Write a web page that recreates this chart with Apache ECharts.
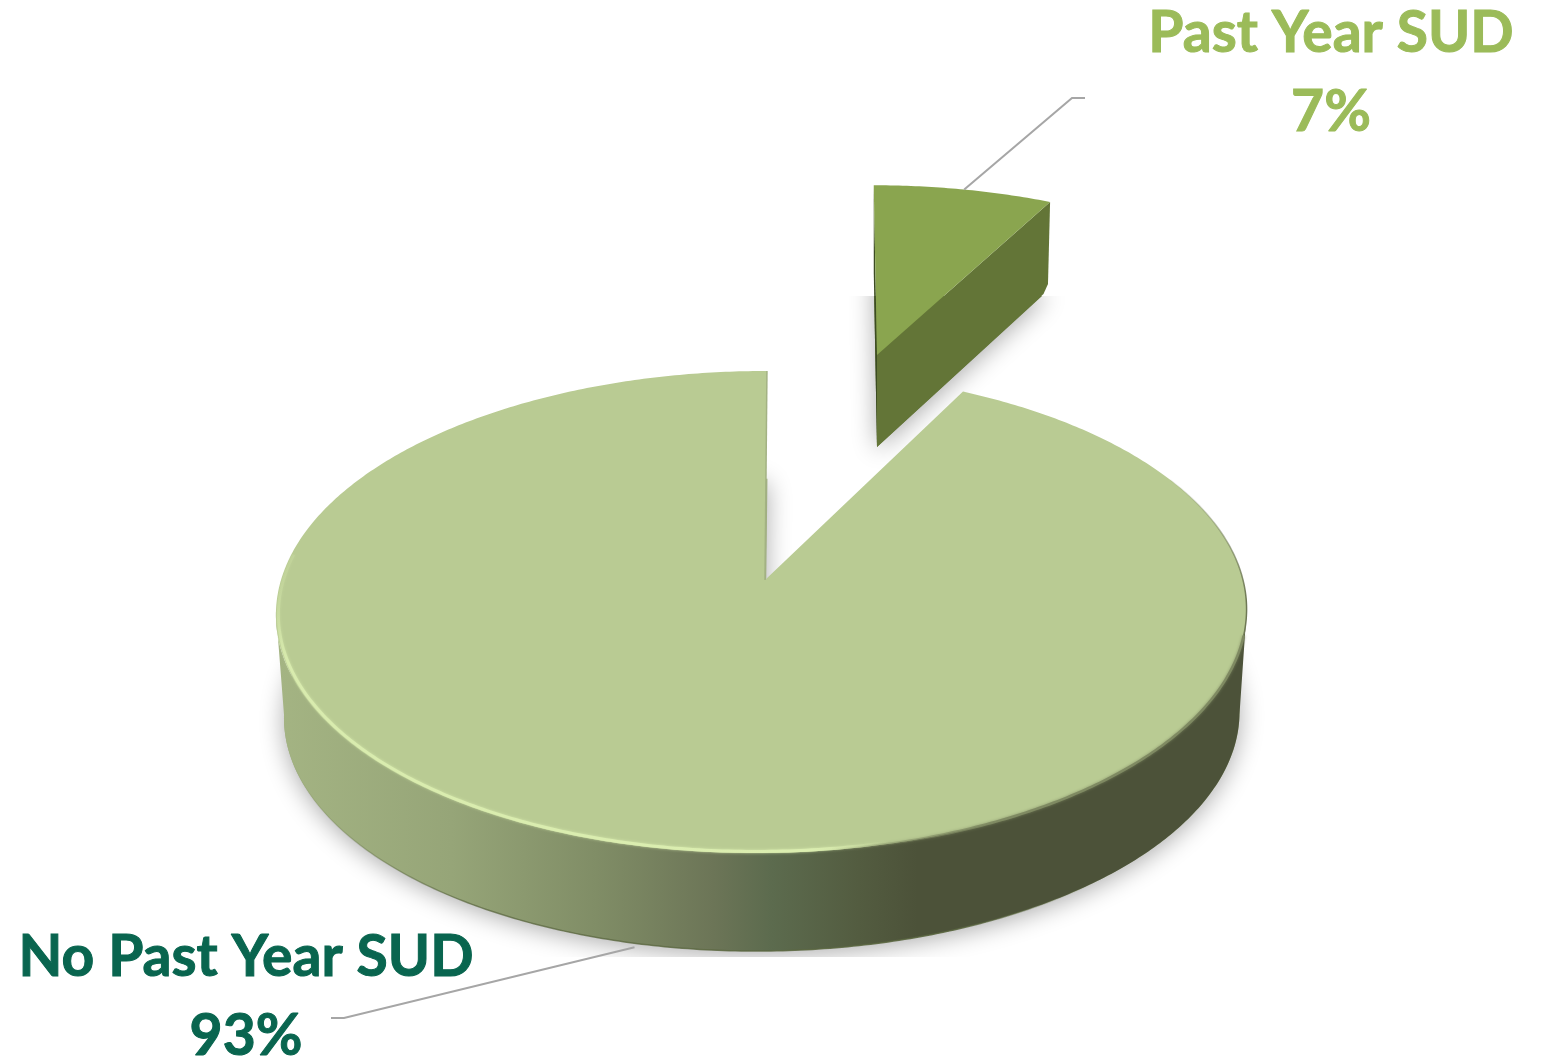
<!DOCTYPE html>
<html>
<head>
<meta charset="utf-8">
<style>html,body{margin:0;padding:0;background:#fff}#chart{width:1542px;height:1058px}</style>
<script src="https://cdn.jsdelivr.net/npm/echarts@6/dist/echarts.min.js"></script>
</head>
<body>
<div id="chart"></div>
<script>
// Share of people with a past-year substance use disorder.
const categories = ['No Past Year SUD', 'Past Year SUD'];
const values = [93, 7];
const labelColors = ['#09654f', '#9bbb59'];

const total = values.reduce((a, b) => a + b, 0);
const TAU = Math.PI * 2;

// Perspective projection of the pie's top and bottom planes.
const K = 0.1328, LENS = 0.045, SKEW = 5.6;
const top3d = { cx: 762, cy: 580, ax: 481, ay: 236.8 };
const bottom3d = { cx: 762.5, cy: 683.5, ax: 473.5, ay: 232 };
const apexTop = [765, 580], apexBottom = [765, 683.5];
function project(plane, a, r) {
  const t = a + LENS * Math.sin(2 * a);
  const u = Math.sin(t) * r, v = Math.cos(t) * r, w = 1 + K * v;
  return [plane.cx + (plane.ax * u + SKEW * v) / w, plane.cy - plane.ay * v / w];
}
function arc(plane, from, to, r) {
  const n = Math.max(4, Math.ceil(Math.abs(to - from) / 0.01)), pts = [];
  for (let i = 0; i <= n; i++) pts.push(project(plane, from + (to - from) * i / n, r === undefined ? 1 : r));
  return pts;
}

// The detached slice is the same wedge, moved and foreshortened about its own tip.
const tip = [877, 355], tipBottom = [877, 447];
function liftTop(p) {
  const dx = p[0] - apexTop[0], dy = p[1] - apexTop[1];
  return [tip[0] + 0.897 * dx + 0.024 * dy, tip[1] + 0.812 * dy];
}
function liftBottom(p) {
  const q = liftTop(p);
  return [tipBottom[0] + 0.985 * (q[0] - tip[0]), tipBottom[1] + 1.02 * (q[1] - tip[1])];
}

const softShadow = { shadowBlur: 24, shadowColor: 'rgba(0,0,0,0.33)', shadowOffsetY: 4 };
const wallFill = new echarts.graphic.LinearGradient(277, 0, 1247, 0, [
  { offset: 0, color: '#a4b483' },
  { offset: 0.18, color: '#96a578' },
  { offset: 0.33, color: '#808d66' },
  { offset: 0.45, color: '#6c7557' },
  { offset: 0.51, color: '#5c6b4e' },
  { offset: 0.60, color: '#535c40' },
  { offset: 0.66, color: '#4c5239' },
  { offset: 1, color: '#4c5239' }
], true);
const topFill = '#b9cb93';
const glowStroke = new echarts.graphic.LinearGradient(280, 560, 880, 860, [
  { offset: 0, color: 'rgba(219,238,176,0)' },
  { offset: 0.08, color: 'rgba(219,238,176,0.85)' },
  { offset: 0.9, color: 'rgba(219,238,176,1)' },
  { offset: 1, color: 'rgba(219,238,176,0)' }
], true);
const edgeStroke = new echarts.graphic.LinearGradient(830, 0, 1000, 0, [
  { offset: 0, color: 'rgba(127,138,98,0)' },
  { offset: 1, color: 'rgba(127,138,98,1)' }
], true);
const farEdgeStroke = new echarts.graphic.LinearGradient(0, 470, 0, 600, [
  { offset: 0, color: 'rgba(110,120,84,0)' },
  { offset: 1, color: 'rgba(110,120,84,1)' }
], true);
const baseStroke = new echarts.graphic.LinearGradient(284, 0, 1240, 0, [
  { offset: 0, color: 'rgba(90,102,64,0)' },
  { offset: 0.2, color: 'rgba(90,102,64,0.7)' },
  { offset: 0.7, color: 'rgba(90,102,64,0.9)' },
  { offset: 0.85, color: 'rgba(90,102,64,0)' }
], true);

function label(i, x, y) {
  const style = {
    fill: labelColors[i], stroke: labelColors[i], lineWidth: 1,
    font: 'bold 57px Lato', align: 'center', verticalAlign: 'middle'
  };
  return [
    { type: 'text', style: Object.assign({ x: x, y: y, text: categories[i] }, style) },
    { type: 'text', style: Object.assign({ x: x, y: y + 79, text: values[i] + '%' }, style) }
  ];
}
function leader(start, elbow, tail) {
  return {
    type: 'polyline',
    shape: { points: [start, elbow, [elbow[0] + tail, elbow[1]]] },
    style: { fill: null, stroke: '#a6a6a6', lineWidth: 2 }
  };
}

function drawPast(params, api) {
  const sweep = api.value(0) / total * TAU;
  const rim = arc(top3d, 0, sweep).map(liftTop);
  const rimBottom = arc(top3d, 0, sweep).map(liftBottom);
  const rimEnd = rim[rim.length - 1], bottomEnd = rimBottom[rimBottom.length - 1];
  const mid = liftTop(project(top3d, sweep / 2, 1));
  return {
    type: 'group',
    children: [
      { type: 'polygon', shape: { points: [tipBottom].concat(rimBottom) }, style: Object.assign({ fill: '#637537' }, softShadow) },
      { type: 'rect', shape: { x: 830, y: 230, width: 260, height: 66 }, style: { fill: '#fff' } },
      { type: 'polygon', shape: { points: [tip, rim[0], rimBottom[0], tipBottom] }, style: { fill: '#3c4c22' } },
      // Side face of the slice, its lower outer corner slightly rounded off
      { type: 'polygon', shape: { points: [tip, rimEnd, [bottomEnd[0] + 0.5, bottomEnd[1] - 7], [bottomEnd[0] - 4, bottomEnd[1] + 3], tipBottom] }, style: { fill: '#637537' } },
      { type: 'polygon', shape: { points: [tip].concat(rim) }, style: { fill: '#8aa54f' } },
      leader(mid, [1072, 98], 13)
    ].concat(label(params.dataIndex + 1, 1331, 34))
  };
}

function drawMain(params, api) {
  const from = TAU - api.value(0) / total * TAU;
  const to = TAU;
  // Rim angles where the side wall meets the silhouette of the disc
  const rightEdge = 1.717, leftEdge = TAU - 1.717;
  const rimTop = arc(top3d, from, to), rimBottom = arc(bottom3d, from, to);
  const frontTop = arc(top3d, rightEdge, leftEdge), frontBottom = arc(bottom3d, rightEdge, leftEdge);
  const firstEdge = project(top3d, to, 1);
  const mid = project(bottom3d, (from + to) / 2, 1);
  const leaderStart = [mid[0] + 7, mid[1] + 5];
  return {
    type: 'group',
    children: [
      { type: 'polygon', shape: { points: [apexBottom].concat(rimBottom) }, style: Object.assign({ fill: '#9fae80' }, softShadow) },
      { type: 'rect', shape: { x: 0, y: 957, width: 1542, height: 101 }, style: { fill: '#fff' } },
      { type: 'polygon', shape: { points: frontTop.concat(frontBottom.slice().reverse()) }, style: { fill: wallFill } },
      { type: 'polyline', shape: { points: frontBottom }, style: { fill: null, stroke: baseStroke, lineWidth: 1.5 } },
      { type: 'polygon', shape: { points: [apexTop].concat(rimTop) }, style: { fill: topFill } },
      { type: 'polyline', shape: { points: [firstEdge, apexTop] }, style: { fill: null, stroke: '#a3b283', lineWidth: 1.5 } },
      { type: 'polyline', shape: { points: arc(top3d, 1.5 * Math.PI + 0.12, 0.9 * Math.PI, 0.995) }, style: { fill: null, stroke: glowStroke, lineWidth: 3, shadowBlur: 3, shadowColor: 'rgba(219,238,176,0.8)' } },
      { type: 'polyline', shape: { points: arc(top3d, 0.58 * Math.PI, 0.99 * Math.PI) }, style: { fill: null, stroke: edgeStroke, lineWidth: 2.5, shadowBlur: 3, shadowColor: 'rgba(127,138,98,0.8)' } },
      { type: 'polyline', shape: { points: arc(top3d, 0.34 * Math.PI, 0.58 * Math.PI) }, style: { fill: null, stroke: farEdgeStroke, lineWidth: 1.5 } },
      leader(leaderStart, [344, 1018], -13)
    ].concat(label(params.dataIndex, 246, 958))
  };
}

const chart = echarts.init(document.getElementById('chart'));
chart.setOption({
  backgroundColor: '#ffffff',
  animation: false,
  series: [
    { type: 'custom', coordinateSystem: 'none', z: 2, name: categories[1], data: [[values[1]]], renderItem: drawPast, silent: true },
    { type: 'custom', coordinateSystem: 'none', z: 3, name: categories[0], data: [[values[0]]], renderItem: drawMain, silent: true }
  ]
});
</script>
</body>
</html>
